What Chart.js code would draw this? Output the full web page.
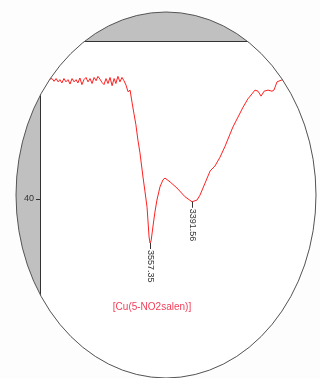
<!DOCTYPE html>
<html>
<head>
<meta charset="utf-8">
<script src="https://cdn.jsdelivr.net/npm/chart.js@4"></script>
<style>
  html, body { margin: 0; padding: 0; background: #ffffff; }
  #ir { display: block; }
</style>
</head>
<body>
<canvas id="ir" width="320" height="378"></canvas>
<script>
// IR spectrum, wavenumber (cm-1) vs transmittance (%)
var wavenumbers = [
  3952, 3944, 3936, 3928, 3920, 3913, 3905, 3897, 3889, 3881,
  3873, 3865, 3857, 3849, 3842, 3834, 3826, 3818, 3810, 3802,
  3794, 3786, 3778, 3770, 3763, 3755, 3747, 3739, 3731, 3723,
  3715, 3707, 3699, 3692, 3684, 3676, 3668, 3660, 3652, 3644,
  3636, 3628, 3621, 3613, 3605, 3597, 3585, 3577, 3569, 3561,
  3557.35, 3553, 3546, 3538, 3530, 3518, 3506, 3498, 3478, 3451,
  3419, 3391.56, 3372, 3360, 3340, 3320, 3301, 3281, 3261, 3230,
  3210, 3190, 3171, 3155, 3143, 3131, 3119, 3107, 3092, 3076,
  3068, 3056, 3040, 3021, 2997
];
var transmittance = [
  61.8, 61.9, 61.4, 61.9, 61.3, 61.7, 61.1, 61.9, 61.3, 61.7,
  60.9, 61.9, 61.3, 61.7, 61.1, 62.0, 60.8, 61.7, 62.1, 61.3,
  61.9, 61.0, 62.1, 61.5, 62.3, 61.8, 61.2, 60.8, 61.9, 61.0,
  62.1, 60.6, 61.9, 61.0, 62.3, 61.3, 62.1, 61.5, 60.7, 59.5,
  59.8, 57.5, 55.6, 53.5, 50.7, 48.4, 44.0, 41.3, 38.5, 33.1,
  32.0, 32.4, 34.9, 37.6, 39.8, 42.2, 43.5, 43.8, 43.1, 42.0,
  40.4, 39.5, 39.8, 40.7, 42.9, 45.1, 46.0, 47.6, 49.6, 53.1,
  54.9, 56.7, 58.2, 59.1, 59.8, 59.6, 58.7, 59.6, 59.8, 59.6,
  59.8, 61.3, 61.6, 61.8, 62.0
];
var peakLabels = [3557.35, 3391.56];
var sampleName = '[Cu(5-NO2salen)]';

var points = wavenumbers.map(function(w, i){ return { x: w, y: transmittance[i] }; });

// ellipse window with gray surround, frame, peak labels
var lensPlugin = {
  id: 'lens',
  ellipse(ctx) {
    ctx.beginPath();
    ctx.ellipse(166, 195, 150, 183, 0, 0, Math.PI * 2);
  },
  beforeDraw(chart) {
    var ctx = chart.ctx, a = chart.chartArea;
    ctx.save();
    ctx.fillStyle = '#fdfdfd';
    ctx.fillRect(0, 0, chart.width, chart.height);
    this.ellipse(ctx);
    ctx.fillStyle = '#c0c0c0';
    ctx.fill();
    ctx.clip();
    ctx.fillStyle = '#ffffff';
    ctx.fillRect(a.left, a.top, chart.width - a.left, chart.height - a.top);
  },
  afterDraw(chart) {
    var ctx = chart.ctx, a = chart.chartArea;
    var xs = chart.scales.x, ys = chart.scales.y;
    // top frame of the plot area
    ctx.strokeStyle = '#333333';
    ctx.lineWidth = 1;
    ctx.beginPath();
    ctx.moveTo(a.left, Math.round(a.top) + 0.5);
    ctx.lineTo(a.right, Math.round(a.top) + 0.5);
    ctx.stroke();

    // peak labels
    ctx.font = '9px "Liberation Sans", Arial, sans-serif';
    ctx.fillStyle = '#333333';
    peakLabels.forEach(function(w){
      var i = wavenumbers.indexOf(w);
      var px = Math.round(xs.getPixelForValue(w)) + 0.5;
      var py = ys.getPixelForValue(transmittance[i]);
      ctx.beginPath();
      ctx.moveTo(px, py);
      ctx.lineTo(px, py + 6);
      ctx.stroke();
      ctx.save();
      ctx.translate(px, py + 7);
      ctx.rotate(Math.PI / 2);
      ctx.textAlign = 'left';
      ctx.textBaseline = 'middle';
      ctx.fillText(w.toFixed(2), 0, 0);
      ctx.restore();
    });

    // sample name
    ctx.font = '10px "Liberation Sans", Arial, sans-serif';
    ctx.fillStyle = '#f0405a';
    ctx.textAlign = 'center';
    ctx.textBaseline = 'middle';
    ctx.fillText(sampleName, 152, 307);
    ctx.restore();

    // ellipse outline
    ctx.save();
    this.ellipse(ctx);
    ctx.strokeStyle = '#555555';
    ctx.lineWidth = 1;
    ctx.stroke();
    ctx.restore();
  }
};

new Chart(document.getElementById('ir'), {
  type: 'line',
  data: {
    datasets: [{
      label: sampleName,
      data: points,
      borderColor: '#ff2020',
      borderWidth: 1,
      pointRadius: 0,
      tension: 0,
      fill: false
    }]
  },
  options: {
    responsive: false,
    animation: false,
    devicePixelRatio: 1,
    layout: { padding: { top: 41, left: 0, right: 0, bottom: 0 } },
    plugins: { legend: { display: false }, tooltip: { enabled: false } },
    scales: {
      x: { type: 'linear', reverse: true, min: 2886.4, max: 3991.5, display: false },
      y: {
        type: 'linear', min: 7.455, max: 68.727,
        afterFit: function(scale){
          scale.width = 40;
          scale.paddingTop = 0;
          scale.paddingBottom = 0;
        },
        afterBuildTicks: function(scale){
          scale.ticks = scale.ticks.filter(function(t){ return t.value % 20 === 0; });
        },
        ticks: { stepSize: 20, color: '#333333', padding: 2, font: { size: 9, family: '"Liberation Sans", Arial, sans-serif' } },
        grid: { drawOnChartArea: false, tickLength: 4, color: '#333333' },
        border: { display: true, color: '#333333', width: 1 }
      }
    }
  },
  plugins: [lensPlugin]
});
</script>
</body>
</html>
